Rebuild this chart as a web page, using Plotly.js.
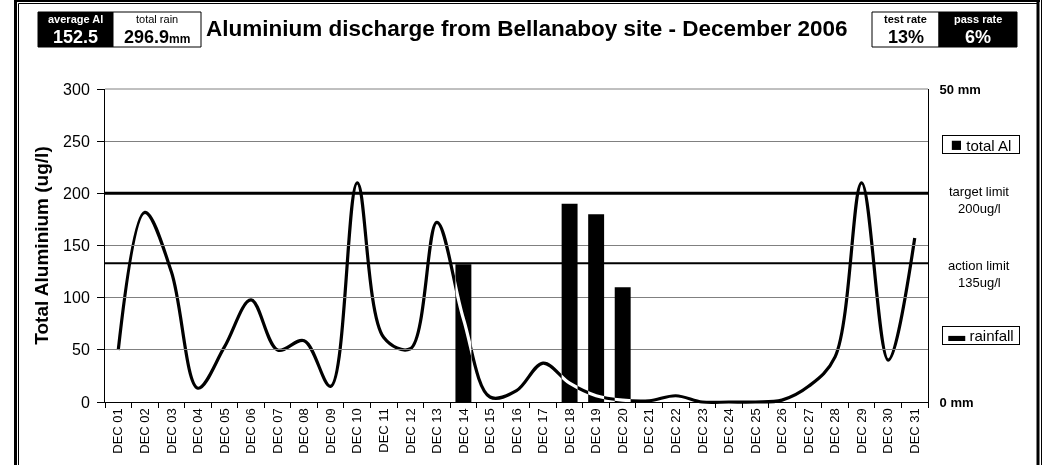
<!DOCTYPE html>
<html>
<head>
<meta charset="utf-8">
<script src="https://cdn.plot.ly/plotly-3.0.1.min.js"></script>
<style>html,body{margin:0;padding:0;background:#fff;overflow:hidden}</style>
</head>
<body>
<div id="chart" style="width:1049px;height:465px"></div>
<script>
// ---- data ----
const days = ["DEC 01","DEC 02","DEC 03","DEC 04","DEC 05","DEC 06","DEC 07","DEC 08","DEC 09","DEC 10",
  "DEC 11","DEC 12","DEC 13","DEC 14","DEC 15","DEC 16","DEC 17","DEC 18","DEC 19","DEC 20",
  "DEC 21","DEC 22","DEC 23","DEC 24","DEC 25","DEC 26","DEC 27","DEC 28","DEC 29","DEC 30","DEC 31"];
const rainfallMm = [8.3,30.3,20.8,2.2,8.8,16.3,8.3,9.8,2.5,35.0,
  10.3,8.5,28.7,13.3,0.8,1.8,6.2,3.0,1.0,0.3,
  0.2,1.0,0.0,0.0,0.0,0.3,2.5,7.2,35.0,6.7,26.2];
const alDays = ["DEC 14","DEC 18","DEC 19","DEC 20"];
const alValues = [132,190,180,110];
const targetLimit = 200;
const actionLimit = 133;
const averageAlText = "152.5";
const totalRainText = "296.9";
const testRateText = "13%";
const passRateText = "6%";
const chartTitle = "Aluminium discharge from Bellanaboy site - December 2006";

// ---- geometry helpers (pixel -> paper) ----
const L = 105, R = 928, T = 89, B = 402;
const W = R - L, H = B - T;
const px = x => (x - L) / W;
const py = y => (B - y) / H;

const FONT = "Liberation Sans, Arial, sans-serif";

const traces = [
  {
    type: "bar", name: "total Al", x: alDays, y: alValues,
    marker: {color: "#000"}, width: 0.6, yaxis: "y", showlegend: false,
    hoverinfo: "x+y"
  },
  {
    type: "scatter", mode: "lines", name: "rainfall", x: days, y: rainfallMm,
    yaxis: "y2", line: {color: "#fff", width: 3.2, shape: "spline", smoothing: 1},
    showlegend: false
  }
];

const HB0 = 12, HB1 = 47; // header box top / bottom (px)

const shapes = [
  // white page background inside the svg (backdrop for the inverted line)
  {type: "rect", xref: "paper", yref: "paper", x0: px(0), x1: px(1049), y0: py(0), y1: py(465),
   fillcolor: "#fff", line: {width: 0}, layer: "below"},
  // top border of plot area
  {type: "line", xref: "paper", yref: "paper", x0: 0, x1: 1, y0: 1, y1: 1,
   line: {color: "#808080", width: 1}, layer: "below"},
  // limit lines
  {type: "line", xref: "paper", yref: "y", x0: 0, x1: 1, y0: targetLimit, y1: targetLimit,
   line: {color: "#000", width: 3}, layer: "above"},
  {type: "line", xref: "paper", yref: "y", x0: 0, x1: 1, y0: actionLimit, y1: actionLimit,
   line: {color: "#000", width: 2}, layer: "above"},
  // frame
  {type: "line", xref: "paper", yref: "paper", x0: px(15.5), x1: px(15.5), y0: py(0), y1: py(470),
   line: {color: "#000", width: 3}},
  {type: "line", xref: "paper", yref: "paper", x0: px(18.5), x1: px(18.5), y0: py(3.5), y1: py(470),
   line: {color: "#000", width: 1}},
  {type: "line", xref: "paper", yref: "paper", x0: px(1038), x1: px(1038), y0: py(0), y1: py(470),
   line: {color: "#000", width: 3}},
  {type: "line", xref: "paper", yref: "paper", x0: px(1041.5), x1: px(1041.5), y0: py(0), y1: py(470),
   line: {color: "#000", width: 1}},
  {type: "line", xref: "paper", yref: "paper", x0: px(14), x1: px(1040), y0: py(1), y1: py(1),
   line: {color: "#000", width: 2}},
  {type: "line", xref: "paper", yref: "paper", x0: px(18.5), x1: px(1038), y0: py(3.5), y1: py(3.5),
   line: {color: "#000", width: 1}},
  // header boxes
  {type: "rect", xref: "paper", yref: "paper", x0: px(38), x1: px(113), y0: py(HB0), y1: py(HB1),
   fillcolor: "#000", line: {color: "#000", width: 1}},
  {type: "rect", xref: "paper", yref: "paper", x0: px(113), x1: px(201), y0: py(HB0), y1: py(HB1),
   fillcolor: "#fff", line: {color: "#000", width: 1}},
  {type: "rect", xref: "paper", yref: "paper", x0: px(872), x1: px(939), y0: py(HB0), y1: py(HB1),
   fillcolor: "#fff", line: {color: "#000", width: 1}},
  {type: "rect", xref: "paper", yref: "paper", x0: px(939), x1: px(1017), y0: py(HB0), y1: py(HB1),
   fillcolor: "#000", line: {color: "#000", width: 1}}
];

function ann(x, y, text, size, color, extra) {
  return Object.assign({xref: "paper", yref: "paper", x: px(x), y: py(y), text: text,
    showarrow: false, xanchor: "center", yanchor: "middle", borderpad: 0,
    font: {family: FONT, size: size, color: color || "#000"}}, extra || {});
}

const LBL_Y = 18.5, NUM_Y = 36.5;
const annotations = [
  ann(75.5, LBL_Y, "<b>average Al</b>", 11, "#fff"),
  ann(75.5, NUM_Y, "<b>" + averageAlText + "</b>", 18, "#fff"),
  ann(157, LBL_Y, "total rain", 11, "#000"),
  ann(157, NUM_Y, "<b>" + totalRainText + "</b><b><span style='font-size:12px'>mm</span></b>", 18, "#000"),
  ann(905.5, LBL_Y, "<b>test rate</b>", 11, "#000"),
  ann(905.5, NUM_Y, "<b>" + testRateText + "</b>", 18, "#000"),
  ann(978, LBL_Y, "<b>pass rate</b>", 11, "#fff"),
  ann(978, NUM_Y, "<b>" + passRateText + "</b>", 18, "#fff"),
  ann(205, 29, "<b>" + chartTitle + "</b>", 22.5, "#000", {xanchor: "left"}),
  ann(979, 191, "target limit", 13, "#000"),
  ann(979, 208, "200ug/l", 13, "#000"),
  ann(979, 265, "action limit", 13, "#000"),
  ann(979, 282, "135ug/l", 13, "#000"),
  ann(981, 144, "<span style='font-size:19px'>■</span> total Al", 15, "#000",
    {bordercolor: "#000", borderwidth: 1, bgcolor: "#fff", width: 76, height: 17}),
  ann(981, 335, "<span style='font-size:17px'>▬</span> rainfall", 15, "#000",
    {bordercolor: "#000", borderwidth: 1, bgcolor: "#fff", width: 76, height: 17})
];

const layout = {
  width: 1049, height: 465,
  margin: {l: L, r: 1049 - R, t: T, b: 465 - B, pad: 0},
  paper_bgcolor: "#fff", plot_bgcolor: "#fff",
  showlegend: false,
  bargap: 0.4,
  font: {family: FONT, color: "#000"},
  xaxis: {
    type: "category", categoryorder: "array", categoryarray: days,
    range: [-0.5, days.length - 0.5],
    tickangle: -90, tickfont: {family: FONT, size: 13, color: "#000"},
    ticks: "outside", tickson: "boundaries", ticklen: 5, tickcolor: "#000",
    showline: true, linecolor: "#000", linewidth: 1, showgrid: false,
    fixedrange: true
  },
  yaxis: {
    range: [0, 300], dtick: 50, tick0: 0,
    tickfont: {family: FONT, size: 16, color: "#000"},
    ticks: "outside", ticklen: 7, tickcolor: "#000", ticklabelstandoff: 4,
    showline: true, linecolor: "#000", linewidth: 1,
    showgrid: true, gridcolor: "#808080", gridwidth: 1, zeroline: false,
    title: {text: "<b>Total Aluminium (ug/l)</b>", font: {family: FONT, size: 19, color: "#000"}, standoff: 9},
    fixedrange: true
  },
  yaxis2: {
    overlaying: "y", side: "right", range: [0, 50],
    tickvals: [0, 50], ticktext: ["<b>0 mm</b>", "<b>50 mm</b>"],
    tickfont: {family: FONT, size: 13, color: "#000"},
    ticks: "", ticklabelstandoff: 8,
    showline: true, linecolor: "#000", linewidth: 1, showgrid: false, zeroline: false,
    fixedrange: true
  },
  shapes: shapes,
  annotations: annotations
};

Plotly.newPlot("chart", traces, layout, {displayModeBar: false, staticPlot: true}).then(() => {
  const gd = document.getElementById("chart");
  // drop clipping groups so the line can blend with what lies beneath it
  gd.querySelectorAll(".cartesianlayer [clip-path]").forEach(g => g.removeAttribute("clip-path"));
  gd.querySelectorAll(".scatterlayer path.js-line").forEach(p => {
    p.style.mixBlendMode = "difference";
  });
});
</script>
</body>
</html>
